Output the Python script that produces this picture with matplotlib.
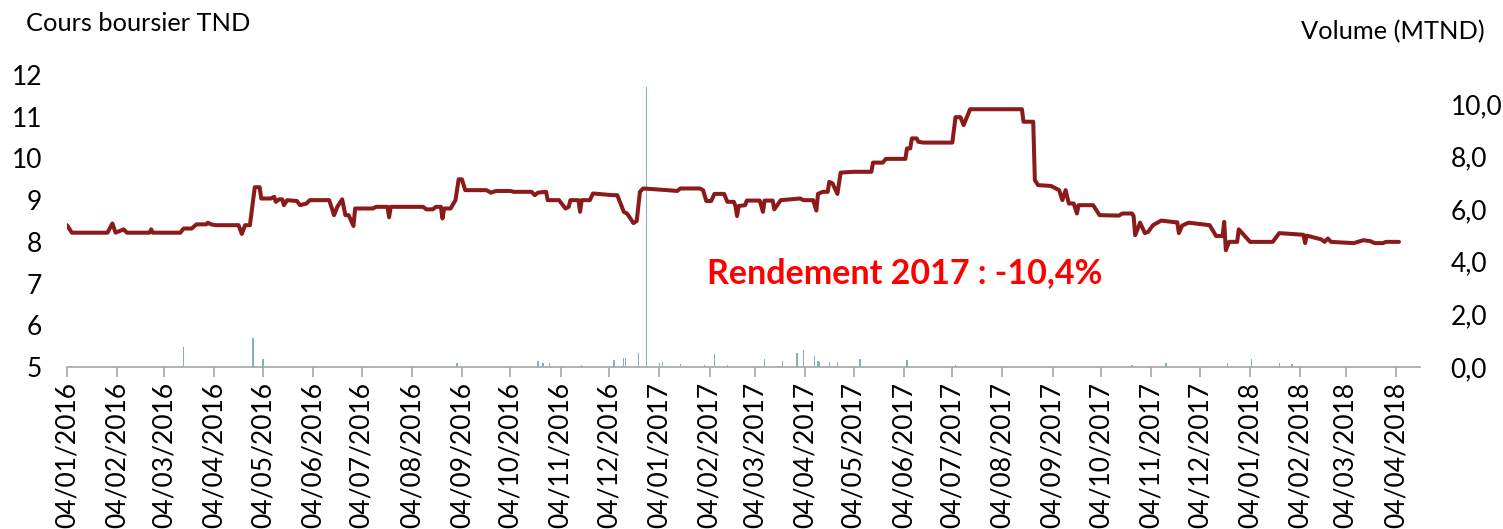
import matplotlib
matplotlib.use("Agg")
import matplotlib.pyplot as plt
import matplotlib.dates as mdates
import pandas as pd
from matplotlib.ticker import FixedLocator, FuncFormatter

plt.rcParams["font.family"] = ["Lato", "DejaVu Sans"]

# daily closing price (TND), read at each change of level
price_dates = [
    "2016-01-04", "2016-01-07", "2016-01-29", "2016-02-01", "2016-02-03", "2016-02-08",
    "2016-02-10", "2016-02-24", "2016-02-25", "2016-02-26", "2016-03-14", "2016-03-16",
    "2016-03-21", "2016-03-24", "2016-03-30", "2016-03-31", "2016-04-02", "2016-04-05",
    "2016-04-19", "2016-04-21", "2016-04-23", "2016-04-26", "2016-04-29", "2016-05-02",
    "2016-05-03", "2016-05-09", "2016-05-11", "2016-05-12", "2016-05-14", "2016-05-16",
    "2016-05-17", "2016-05-19", "2016-05-25", "2016-05-27", "2016-05-31", "2016-06-02",
    "2016-06-14", "2016-06-17", "2016-06-19", "2016-06-22", "2016-06-24", "2016-06-26",
    "2016-06-29", "2016-06-30", "2016-07-11", "2016-07-13", "2016-07-20", "2016-07-21",
    "2016-07-22", "2016-08-11", "2016-08-13", "2016-08-17", "2016-08-19", "2016-08-22",
    "2016-08-23", "2016-08-24", "2016-08-28", "2016-08-31", "2016-09-02", "2016-09-04",
    "2016-09-06", "2016-09-19", "2016-09-22", "2016-09-25", "2016-10-04", "2016-10-06",
    "2016-10-17", "2016-10-19", "2016-10-21", "2016-10-26", "2016-10-27", "2016-11-03",
    "2016-11-07", "2016-11-09", "2016-11-10", "2016-11-15", "2016-11-16", "2016-11-17",
    "2016-11-22", "2016-11-24", "2016-12-06", "2016-12-09", "2016-12-13", "2016-12-15",
    "2016-12-19", "2016-12-21", "2016-12-23", "2016-12-25", "2017-01-09", "2017-01-15",
    "2017-01-17", "2017-01-29", "2017-01-31", "2017-02-02", "2017-02-05", "2017-02-07",
    "2017-02-13", "2017-02-15", "2017-02-19", "2017-02-20", "2017-02-21", "2017-02-22",
    "2017-02-26", "2017-02-27", "2017-03-07", "2017-03-09", "2017-03-10", "2017-03-15",
    "2017-03-16", "2017-03-20", "2017-04-01", "2017-04-03", "2017-04-09", "2017-04-11",
    "2017-04-12", "2017-04-15", "2017-04-18", "2017-04-19", "2017-04-21", "2017-04-24",
    "2017-04-26", "2017-05-04", "2017-05-15", "2017-05-16", "2017-05-22", "2017-05-24",
    "2017-06-05", "2017-06-06", "2017-06-08", "2017-06-09", "2017-06-12", "2017-06-13",
    "2017-06-16", "2017-07-04", "2017-07-06", "2017-07-09", "2017-07-11", "2017-07-13",
    "2017-07-15", "2017-08-16", "2017-08-17", "2017-08-23", "2017-08-24", "2017-08-26",
    "2017-09-03", "2017-09-08", "2017-09-10", "2017-09-12", "2017-09-14", "2017-09-17",
    "2017-09-19", "2017-09-20", "2017-09-29", "2017-10-03", "2017-10-15", "2017-10-17",
    "2017-10-23", "2017-10-24", "2017-10-25", "2017-10-28", "2017-10-31", "2017-11-02",
    "2017-11-05", "2017-11-10", "2017-11-19", "2017-11-20", "2017-11-21", "2017-11-23",
    "2017-11-27", "2017-12-10", "2017-12-14", "2017-12-18", "2017-12-19", "2017-12-20",
    "2017-12-22", "2017-12-27", "2017-12-28", "2018-01-04", "2018-01-18", "2018-01-22",
    "2018-02-06", "2018-02-07", "2018-02-08", "2018-02-17", "2018-02-19", "2018-02-21",
    "2018-02-23", "2018-03-09", "2018-03-15", "2018-03-19", "2018-03-22", "2018-03-27",
    "2018-03-29", "2018-04-06",
]
price_values = [
    8.40, 8.22, 8.22, 8.44, 8.22, 8.30,
    8.22, 8.22, 8.30, 8.22, 8.22, 8.32,
    8.32, 8.42, 8.42, 8.46, 8.42, 8.40,
    8.40, 8.19, 8.40, 8.40, 9.31, 9.31,
    9.04, 9.04, 9.08, 8.96, 9.02, 9.02,
    8.88, 9.00, 8.98, 8.88, 8.92, 9.00,
    9.00, 8.64, 8.84, 9.02, 8.64, 8.64,
    8.38, 8.80, 8.80, 8.84, 8.84, 8.59,
    8.84, 8.84, 8.78, 8.78, 8.84, 8.84,
    8.56, 8.80, 8.80, 9.00, 9.50, 9.50,
    9.24, 9.24, 9.18, 9.22, 9.22, 9.20,
    9.20, 9.12, 9.18, 9.20, 9.00, 9.00,
    8.80, 8.84, 9.00, 9.00, 8.72, 9.00,
    9.00, 9.16, 9.12, 9.12, 8.72, 8.68,
    8.45, 8.50, 9.20, 9.28, 9.24, 9.22,
    9.28, 9.28, 9.24, 8.98, 8.98, 9.15,
    9.15, 8.96, 8.96, 8.86, 8.62, 8.86,
    8.88, 8.99, 8.99, 8.72, 8.99, 8.99,
    8.78, 9.00, 9.04, 9.00, 9.00, 8.75,
    9.15, 9.20, 9.20, 9.44, 9.40, 9.15,
    9.66, 9.68, 9.68, 9.90, 9.90, 9.99,
    9.99, 10.24, 10.24, 10.48, 10.48, 10.40,
    10.38, 10.38, 10.99, 10.99, 10.80, 10.99,
    11.18, 11.18, 10.88, 10.88, 9.48, 9.36,
    9.34, 9.24, 9.00, 9.24, 8.92, 8.92,
    8.68, 8.88, 8.88, 8.64, 8.63, 8.68,
    8.68, 8.62, 8.16, 8.46, 8.21, 8.24,
    8.40, 8.51, 8.47, 8.47, 8.21, 8.39,
    8.46, 8.40, 8.14, 8.14, 8.48, 7.80,
    8.00, 8.00, 8.30, 8.00, 8.00, 8.21,
    8.17, 7.97, 8.15, 8.06, 8.00, 8.08,
    8.00, 7.97, 8.04, 8.02, 7.97, 7.97,
    8.00, 8.00,
]

# traded volume (MTND) on days with notable activity
volume_dates = [
    "2016-03-16", "2016-04-28", "2016-04-29", "2016-05-04", "2016-07-12", "2016-09-01",
    "2016-10-21", "2016-10-24", "2016-10-28", "2016-11-17", "2016-12-07", "2016-12-13",
    "2016-12-14", "2016-12-22", "2016-12-27", "2017-01-04", "2017-01-06", "2017-01-17",
    "2017-02-01", "2017-02-07", "2017-02-15", "2017-03-10", "2017-03-21", "2017-03-30",
    "2017-04-03", "2017-04-10", "2017-04-12", "2017-04-13", "2017-04-19", "2017-04-24",
    "2017-05-08", "2017-06-06", "2017-07-06", "2017-10-23", "2017-11-13", "2017-12-21",
    "2018-01-05", "2018-01-22", "2018-01-30",
]
volume_values = [
    0.77, 1.11, 0.05, 0.30, 0.05, 0.14,
    0.24, 0.16, 0.16, 0.08, 0.26, 0.33,
    0.33, 0.52, 10.64, 0.16, 0.20, 0.13,
    0.08, 0.48, 0.08, 0.29, 0.23, 0.54,
    0.64, 0.42, 0.24, 0.18, 0.18, 0.20,
    0.29, 0.26, 0.06, 0.06, 0.14, 0.14,
    0.29, 0.17, 0.10,
]

price_ticks = [5, 6, 7, 8, 9, 10, 11, 12]
volume_ticks = [0, 2, 4, 6, 8, 10]
tick_dates = pd.date_range("2016-01-04", "2018-04-04", freq=pd.DateOffset(months=1))

LINE_RED = "#8b1a1a"
BAR_BLUE = "#7fb2c5"
AXIS_GREY = "#a6a6a6"

fig = plt.figure(figsize=(15.03, 5.29), dpi=100)
ax = fig.add_axes([0.0446, 0.3062, 0.9002, 0.552])
ax2 = ax.twinx()

ax2.bar(pd.to_datetime(volume_dates), volume_values, width=0.9, color=BAR_BLUE, linewidth=0)
ax.plot(pd.to_datetime(price_dates), price_values, color=LINE_RED, linewidth=2.9,
        solid_joinstyle="round", solid_capstyle="round")

# price axis above the volume bars
ax.set_zorder(ax2.get_zorder() + 1)
ax.patch.set_visible(False)

ax.set_xlim(pd.Timestamp("2016-01-04"), pd.Timestamp("2018-04-19"))
ax.set_ylim(5, 12)
ax2.set_ylim(0, 11.1)

ax.set_yticks(price_ticks)
ax2.yaxis.set_major_locator(FixedLocator(volume_ticks))
ax2.yaxis.set_major_formatter(FuncFormatter(lambda v, _: f"{v:.1f}".replace(".", ",")))

ax.xaxis.set_major_locator(FixedLocator(mdates.date2num(tick_dates)))
ax.xaxis.set_major_formatter(mdates.DateFormatter("%d/%m/%Y"))

for a in (ax, ax2):
    for side in ("top", "left", "right"):
        a.spines[side].set_visible(False)
ax2.spines["bottom"].set_visible(False)
ax.spines["bottom"].set_color(AXIS_GREY)
ax.spines["bottom"].set_linewidth(1.2)

ax.tick_params(axis="x", direction="out", length=7, width=1.2, color=AXIS_GREY,
               labelsize=19, labelrotation=90, pad=4)
ax.tick_params(axis="y", length=0, labelsize=19, pad=18)
ax2.tick_params(axis="y", length=0, labelsize=19, pad=22)

fig.text(0.017, 0.955, "Cours boursier TND", fontsize=18.3, va="center", ha="left")
fig.text(0.988, 0.94, "Volume (MTND)", fontsize=18.3, va="center", ha="right")

ax.text(0.619, 0.322, "Rendement 2017 : -10,4%", transform=ax.transAxes,
        color="#ff0000", fontsize=24.5, fontweight="bold", ha="center", va="center")

fig.savefig("out.png", dpi=100)
